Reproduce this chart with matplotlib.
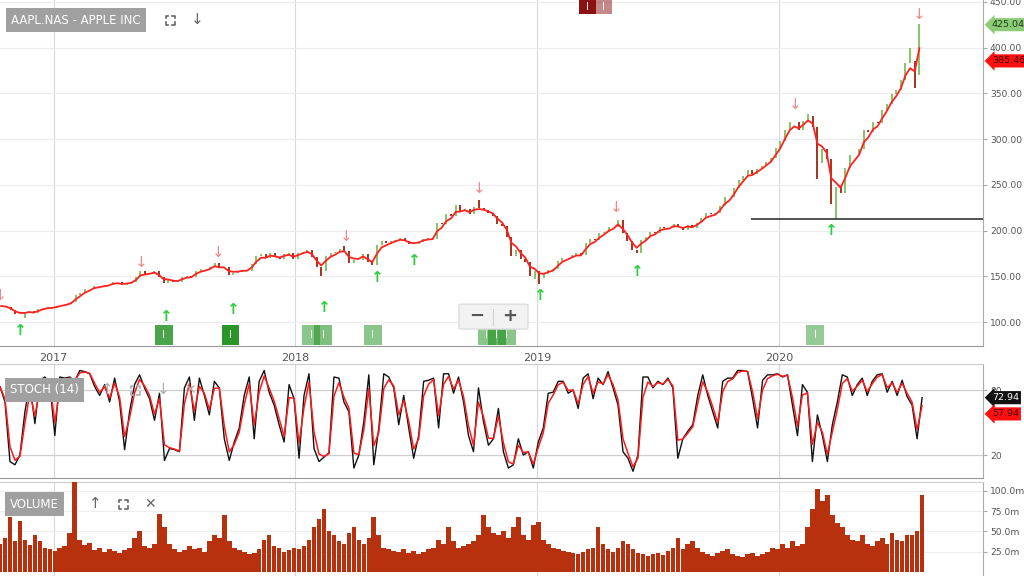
import numpy as np
import pandas as pd
import matplotlib
matplotlib.use("Agg")
import matplotlib.pyplot as plt
import matplotlib.dates as mdates
import matplotlib.transforms as mtransforms
from matplotlib.patches import Rectangle, FancyBboxPatch
from matplotlib.lines import Line2D

# weekly closes (Fridays), pre-split prices
close_2016 = [117.6, 116.6, 113.7, 108.8, 108.4, 110.1, 111.8, 109.9, 113.9, 115.8, 116.5, 115.8]
close_2017 = [117.9, 119.0, 120.0, 122.0, 129.1, 132.1, 135.7, 136.7, 139.8, 139.1, 140.0, 140.6, 143.7,
              143.3, 141.1, 142.3, 143.7, 149.0, 156.1, 153.1, 153.6, 155.5, 149.0, 142.3, 146.3, 144.0,
              144.2, 149.0, 150.3, 149.5, 156.4, 157.5, 157.5, 159.9, 164.1, 158.6, 159.9, 151.9, 154.1,
              155.3, 157.0, 156.3, 163.1, 172.5, 174.7, 170.2, 175.0, 171.1, 169.4, 174.0, 175.0, 169.2]
close_2018 = [175.0, 177.1, 178.5, 171.5, 160.5, 156.4, 172.4, 175.5, 176.2, 180.0, 178.0, 164.9, 167.8,
              168.4, 174.7, 165.7, 162.3, 183.8, 188.6, 186.3, 188.6, 190.2, 191.7, 188.8, 184.9, 185.1,
              188.0, 191.3, 191.4, 191.0, 208.0, 207.5, 217.6, 216.2, 227.6, 221.3, 223.8, 217.7, 225.7,
              224.3, 222.1, 219.3, 216.3, 207.5, 204.5, 193.5, 172.3, 178.6, 168.5, 165.5, 150.7, 156.2]
close_2019 = [148.3, 152.3, 156.8, 157.8, 166.5, 170.4, 170.4, 173.0, 175.0, 172.9, 186.1, 191.1, 190.0,
              197.0, 198.9, 203.9, 204.3, 211.8, 197.2, 189.0, 179.0, 175.1, 190.2, 192.7, 198.8, 197.9,
              204.2, 203.3, 202.6, 207.7, 204.0, 201.0, 206.5, 202.6, 208.7, 213.3, 218.8, 217.7, 218.8,
              227.0, 236.2, 236.4, 246.6, 255.8, 260.1, 265.8, 261.8, 267.3, 270.7, 275.2, 279.4, 289.8]
close_2020 = [297.4, 310.3, 318.7, 318.3, 309.5, 320.0, 325.0, 313.1, 273.4, 289.0, 278.0, 229.2, 247.7,
              241.4, 268.0, 282.8, 283.0, 289.1, 310.1, 307.7, 318.9, 317.9, 331.5, 338.8, 349.7, 353.6,
              364.1, 383.7, 385.3, 370.5, 425.0]

# intraday extremes sticking out of the weekly bars
low_weeks = ["2016-11-18", "2018-02-09", "2018-12-28", "2019-01-04", "2020-02-28", "2020-03-27", "2020-07-24"]
low_vals = [104.1, 150.2, 146.6, 142.0, 256.4, 212.6, 356.0]
high_weeks = ["2018-03-16", "2018-10-05", "2020-02-14", "2020-07-17", "2020-07-31"]
high_vals = [183.5, 233.5, 327.9, 399.8, 425.7]

# signals and events
sell_dates = ["2016-10-12", "2017-05-14", "2017-09-06", "2018-03-19", "2018-10-06", "2019-05-01", "2020-01-25", "2020-07-31"]
sell_px = [129, 165, 176, 193.5, 245.7, 225, 338, 436]
buy_dates = ["2016-11-11", "2017-06-18", "2017-09-28", "2018-02-13", "2018-05-04", "2018-06-28", "2019-01-04", "2019-05-31", "2020-03-19"]
buy_px = [91, 106.5, 114, 116, 149, 167, 129, 155, 200]
event_dates = ["2017-06-16", "2017-09-25", "2018-01-25", "2018-02-12", "2018-04-28", "2018-10-17", "2018-11-01", "2018-11-16", "2020-02-25"]
event_alpha = [0.85, 1.0, 0.55, 0.6, 0.55, 0.55, 0.7, 0.55, 0.5]
news_dates = ["2019-03-18", "2019-04-11"]
news_alpha = [1.0, 0.5]
support_from = "2019-11-20"
support_px = 213.0
last_px = [425.04, 385.46]

# stochastic %K read every ~5px
stoch_a = [83, 69, 14, 11, 20, 60, 86, 49, 89, 92, 85, 38, 92, 91, 92, 88, 98, 97, 95, 83,
           75, 85, 69, 91, 69, 25, 60, 85, 94, 82, 72, 52, 77, 15, 26, 25, 23, 82, 92, 52,
           91, 75, 57, 88, 82, 35, 15, 32, 45, 75, 92, 35, 88, 98, 78, 66, 48, 32, 85, 72,
           17, 75, 95, 26, 14, 18]
stoch_b = [22, 92, 91, 69, 60, 8, 20, 51, 94, 11, 45, 95, 92, 82, 48, 75, 45, 17, 38, 88,
           89, 91, 45, 95, 95, 77, 92, 69, 38, 23, 82, 51, 29, 35, 63, 23, 8, 11, 35, 20,
           23, 8, 32, 45, 77, 78, 88, 88, 77, 80, 63, 91, 95, 72, 91, 85, 97, 82, 66, 23,
           17, 5, 20, 92]
stoch_c = [92, 82, 88, 85, 91, 82, 17, 35, 42, 48, 75, 94, 75, 60, 45, 88, 91, 91, 98, 98,
           97, 72, 45, 89, 94, 94, 95, 92, 94, 66, 38, 85, 78, 14, 57, 38, 14, 48, 69, 94,
           92, 75, 85, 91, 75, 88, 94, 95, 78, 88, 75, 89, 74, 66, 35, 72.94]
stoch_last = [72.94, 57.94]

# volume (millions) on the same spacing
volume = [35, 42, 68, 38, 63, 40, 33, 45, 38, 30, 28, 26, 30, 32, 48, 112, 40, 33, 36, 27,
          30, 25, 28, 26, 24, 27, 30, 42, 50, 32, 30, 35, 72, 55, 34, 28, 25, 27, 32, 28,
          30, 25, 38, 45, 42, 70, 38, 30, 27, 25, 22, 24, 28, 40, 45, 32, 30, 25, 27, 30,
          28, 32, 40, 55, 65, 78, 50, 45, 38, 35, 48, 55, 40, 35, 42, 68, 45, 30, 28, 26,
          25, 28, 24, 26, 22, 25, 28, 30, 40, 35, 55, 38, 30, 32, 35, 38, 45, 70, 55, 48,
          45, 50, 42, 55, 68, 45, 40, 58, 62, 40, 35, 30, 28, 26, 25, 24, 22, 25, 28, 30,
          55, 35, 28, 25, 30, 38, 35, 28, 24, 22, 20, 22, 24, 21, 26, 30, 42, 28, 35, 38,
          30, 25, 22, 20, 24, 26, 28, 22, 20, 18, 22, 24, 20, 22, 25, 30, 28, 35, 30, 38,
          32, 35, 55, 78, 102, 88, 95, 70, 60, 55, 45, 40, 38, 45, 35, 32, 38, 42, 35, 48,
          40, 38, 45, 45, 50, 95]

years = ["2017", "2018", "2019", "2020"]

W, H = 1024, 576
fig = plt.figure(figsize=(W / 100, H / 100), dpi=100)
fig.patch.set_facecolor("white")
right = 983 / W
ax1 = fig.add_axes([0, 1 - 346 / H, right, 346 / H])
ax2 = fig.add_axes([0, 1 - 478 / H, right, (478 - 364) / H])
ax3 = fig.add_axes([0, 0, right, (576 - 482) / H])

x_lo, x_hi = pd.Timestamp("2016-10-12"), pd.Timestamp("2020-11-04")
for ax in (ax1, ax2, ax3):
    ax.set_xlim(x_lo, x_hi)
    ax.yaxis.tick_right()
    ax.tick_params(axis="y", direction="out", length=3, width=0.8, color="#aaaaaa",
                   labelsize=6.6, labelcolor="#555555", pad=2)
    ax.tick_params(axis="x", bottom=False, labelbottom=False)
    for s in ("left", "top", "bottom"):
        ax.spines[s].set_visible(False)
    ax.spines["right"].set_color("#aaaaaa")
    for yr in years:
        ax.axvline(pd.Timestamp(yr + "-01-01"), color="#d8d8d8", lw=0.8, zorder=0)

ax1.spines["bottom"].set_visible(True)
ax1.spines["bottom"].set_color("#999999")
ax2.spines["top"].set_visible(True)
ax2.spines["top"].set_color("#cccccc")
ax2.spines["bottom"].set_visible(True)
ax2.spines["bottom"].set_color("#999999")
ax3.spines["top"].set_visible(True)
ax3.spines["top"].set_color("#cccccc")

# ---- price panel
close = np.array(close_2016 + close_2017 + close_2018 + close_2019 + close_2020)
weeks = pd.date_range("2016-10-14", periods=len(close), freq="W-FRI")
opens = np.r_[117.0, close[:-1]]
lo = pd.Series(np.minimum(opens, close), index=weeks)
hi = pd.Series(np.maximum(opens, close), index=weeks)
for d, v in zip(low_weeks, low_vals):
    lo[pd.Timestamp(d)] = v
for d, v in zip(high_weeks, high_vals):
    hi[pd.Timestamp(d)] = v
up = close >= opens
ax1.vlines(weeks[up], lo[up], hi[up], color="#86c466", lw=1.4, zorder=3)
ax1.vlines(weeks[~up], lo[~up], hi[~up], color="#a8321c", lw=1.4, zorder=3)
ma = pd.Series(close).ewm(span=3).mean()
ax1.plot(weeks, ma, color="#ff2020", lw=1.3, zorder=4)

ax1.set_ylim(73.9, 452)
ax1.set_yticks(np.arange(100, 451, 50))
ax1.yaxis.set_major_formatter(matplotlib.ticker.FormatStrFormatter("%.2f"))
ax1.grid(axis="y", color="#ececec", lw=0.8)
ax1.set_axisbelow(True)

ax1.hlines(support_px, pd.Timestamp(support_from), x_hi, color="#333333", lw=1.2, zorder=5)

for d, p in zip(sell_dates, sell_px):
    ax1.text(pd.Timestamp(d), p, "↓", color="#f08a8a", fontsize=11, ha="center", va="center", zorder=6)
for d, p in zip(buy_dates, buy_px):
    ax1.text(pd.Timestamp(d), p, "↑", color="#2ecc40", fontsize=11, fontweight="bold",
             ha="center", va="center", zorder=6)

bt = mtransforms.blended_transform_factory(ax1.transData, ax1.transAxes)
for d, a in zip(event_dates, event_alpha):
    x0 = mdates.date2num(pd.Timestamp(d))
    ax1.add_patch(Rectangle((x0 - 13.5, 0.004), 27, 0.056, transform=bt, fc="#2a962a",
                            ec="none", alpha=a, zorder=6))
    ax1.text(x0, 0.032, "I", transform=bt, color="white", fontsize=7, ha="center", va="center", zorder=7)
for d, a in zip(news_dates, news_alpha):
    x0 = mdates.date2num(pd.Timestamp(d))
    ax1.add_patch(Rectangle((x0 - 13.5, 0.96), 27, 0.06, transform=bt, fc="#8b1212",
                            ec="none", alpha=a, zorder=6, clip_on=False))
    ax1.text(x0, 0.981, "I", transform=bt, color="white", fontsize=7, ha="center", va="center", zorder=7)

for yr in years:
    ax1.text(pd.Timestamp(yr + "-01-01"), -0.035, yr, transform=bt, ha="center", va="center",
             fontsize=8, color="#555555", clip_on=False)


def tag(ax, y, text, fc, tc):
    tr = mtransforms.blended_transform_factory(ax.transAxes, ax.transData)
    ax.text(1.009, y, text, transform=tr, ha="left", va="center", fontsize=6.8, color=tc,
            bbox=dict(boxstyle="larrow,pad=0.22", fc=fc, ec="none"), clip_on=False, zorder=10)


tag(ax1, last_px[0], f"{last_px[0]:.2f}", "#8ccc78", "#1e3d14")
tag(ax1, last_px[1], f"{last_px[1]:.2f}", "#ff1010", "#4a0000")

# zoom control
ax1.add_patch(FancyBboxPatch((462 / 983, 0.052), 63 / 983, 0.066, transform=ax1.transAxes,
                             boxstyle="round,pad=0.003", fc="#f2f2f2", ec="#dddddd", zorder=8))
ax1.plot([493 / 983] * 2, [0.062, 0.108], transform=ax1.transAxes, color="#d0d0d0", lw=0.8, zorder=9)
ax1.text(477 / 983, 0.086, "−", transform=ax1.transAxes, fontsize=13, fontweight="bold",
         color="#555555", ha="center", va="center", zorder=9)
ax1.text(510 / 983, 0.086, "+", transform=ax1.transAxes, fontsize=13, fontweight="bold",
         color="#555555", ha="center", va="center", zorder=9)

# ---- stochastic panel
stoch_k = np.array(stoch_a + stoch_b + stoch_c, dtype=float)
sdates = pd.date_range("2016-10-12", "2020-08-04", periods=len(stoch_k))
stoch_d = pd.Series(stoch_k).ewm(alpha=0.75).mean()
ax2.plot(sdates, stoch_k, color="#111111", lw=1.0, zorder=3)
ax2.plot(sdates, stoch_d, color="#ff1a1a", lw=1.1, zorder=4)
ax2.set_ylim(-1.2, 104)
ax2.set_yticks([20, 80])
ax2.grid(axis="y", color="#cfcfcf", lw=0.9)
ax2.set_axisbelow(True)
tag(ax2, stoch_last[0], f"{stoch_last[0]:.2f}", "#111111", "white")
tag(ax2, stoch_last[1], f"{stoch_last[1]:.2f}", "#ff1010", "#4a0000")

# ---- volume panel
ax3.bar(sdates, volume, width=7.0, color="#b8310f", lw=0, zorder=3)
ax3.set_ylim(-4.9, 110.9)
ax3.set_yticks([25, 50, 75, 100])
ax3.yaxis.set_major_formatter(matplotlib.ticker.FuncFormatter(lambda v, p: f"{v:.1f}m"))
ax3.grid(axis="y", color="#eeeeee", lw=0.8)
ax3.set_axisbelow(True)


# ---- panel titles and icons
def px(x, y):
    return x / W, 1 - y / H


def label_box(x, y, text):
    fx, fy = px(x, y)
    fig.text(fx, fy, text, ha="left", va="center", fontsize=8.5, color="white",
             bbox=dict(boxstyle="square,pad=0.45", fc="#a0a0a0", ec="none"), zorder=20)


def expand_icon(cx, cy, color="#666666", s=4.5, k=2.5):
    for dx in (-1, 1):
        for dy in (-1, 1):
            xs = [cx + dx * (s - k), cx + dx * s, cx + dx * s]
            ys = [cy + dy * s, cy + dy * s, cy + dy * (s - k)]
            pts = [px(a, b) for a, b in zip(xs, ys)]
            fig.add_artist(Line2D([p[0] for p in pts], [p[1] for p in pts],
                                  transform=fig.transFigure, color=color, lw=1.2, zorder=20))


def icon(x, y, ch, color="#666666", size=11):
    fx, fy = px(x, y)
    fig.text(fx, fy, ch, ha="center", va="center", fontsize=size, color=color, zorder=20)


label_box(11, 20, "AAPL.NAS - APPLE INC")
expand_icon(170, 20)
icon(197, 20, "↓")

label_box(10, 390, "STOCH (14)")
icon(107, 390, "↑", "#b0b0b0")
expand_icon(135, 390, "#b0b0b0")
icon(163, 390, "↓", "#b0b0b0")
icon(190, 390, "✕", "#b0b0b0", 10)

label_box(10, 504, "VOLUME")
icon(95, 504, "↑")
expand_icon(123, 504)
icon(150, 504, "✕", "#666666", 10)

fig.savefig("out.png", dpi=100)
